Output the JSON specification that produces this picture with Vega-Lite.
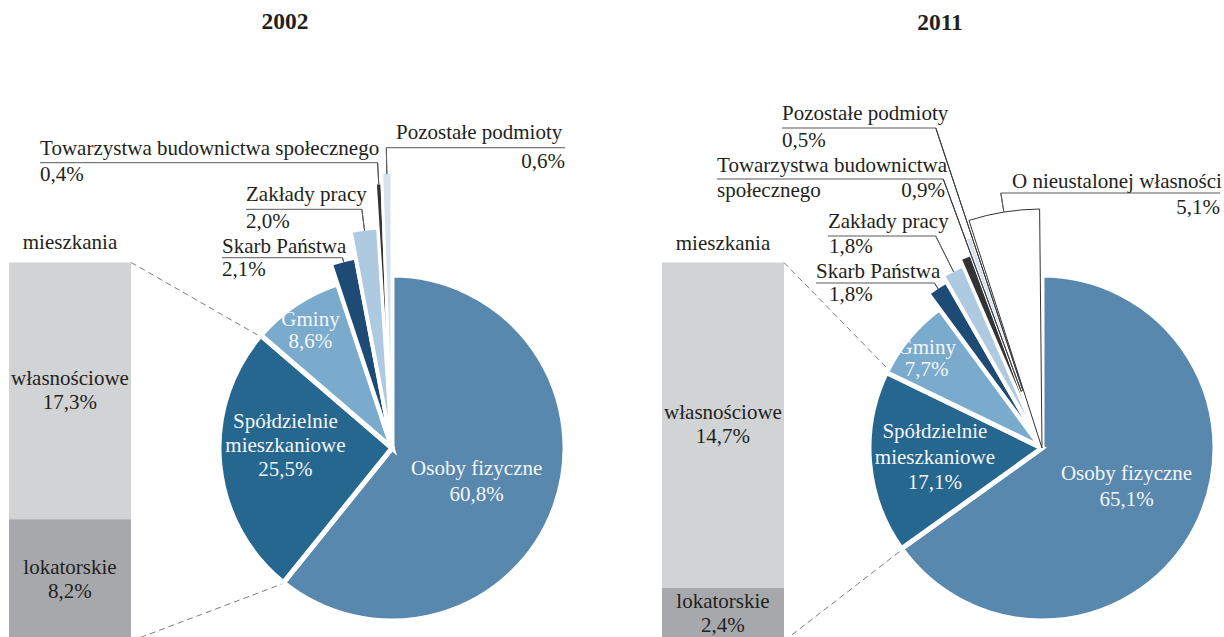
{
  "$schema": "https://vega.github.io/schema/vega-lite/v6.json",
  "padding": {"left": 9, "top": 10, "right": 0, "bottom": 0},
  "autosize": {"type": "pad"},
  "bounds": "flush",
  "spacing": 101,
  "config": {
    "font": "Liberation Serif",
    "view": {"stroke": null},
    "text": {"font": "Liberation Serif", "fontSize": 21, "color": "#231f20"},
    "title": {"font": "Liberation Serif", "fontSize": 23.5, "fontWeight": "bold", "color": "#231f20", "anchor": "middle", "frame": "group"}
  },
  "datasets": {
    "udzialy": [
      {"rok": "2002", "n": 1, "kat": "Osoby fizyczne", "v": 60.8},
      {"rok": "2002", "n": 2, "kat": "Spółdzielnie mieszkaniowe", "v": 25.5},
      {"rok": "2002", "n": 3, "kat": "Gminy", "v": 8.6},
      {"rok": "2002", "n": 4, "kat": "Skarb Państwa", "v": 2.1},
      {"rok": "2002", "n": 5, "kat": "Zakłady pracy", "v": 2.0},
      {"rok": "2002", "n": 6, "kat": "Towarzystwa budownictwa społecznego", "v": 0.4},
      {"rok": "2002", "n": 7, "kat": "Pozostałe podmioty", "v": 0.6},
      {"rok": "2011", "n": 1, "kat": "Osoby fizyczne", "v": 65.1},
      {"rok": "2011", "n": 2, "kat": "Spółdzielnie mieszkaniowe", "v": 17.1},
      {"rok": "2011", "n": 3, "kat": "Gminy", "v": 7.7},
      {"rok": "2011", "n": 4, "kat": "Skarb Państwa", "v": 1.8},
      {"rok": "2011", "n": 5, "kat": "Zakłady pracy", "v": 1.8},
      {"rok": "2011", "n": 6, "kat": "Towarzystwa budownictwa społecznego", "v": 0.9},
      {"rok": "2011", "n": 7, "kat": "Pozostałe podmioty", "v": 0.5},
      {"rok": "2011", "n": 8, "kat": "O nieustalonej własności", "v": 5.1}
    ],
    "mieszkania": [
      {"rok": "2002", "kat": "własnościowe", "v": 17.3},
      {"rok": "2002", "kat": "lokatorskie", "v": 8.2},
      {"rok": "2011", "kat": "własnościowe", "v": 14.7},
      {"rok": "2011", "kat": "lokatorskie", "v": 2.4}
    ]
  },
  "hconcat": [
    {
      "title": {"text": "2002", "offset": 88},
      "width": 552,
      "height": 386,
      "layer": [
        {
          "data": {"name": "mieszkania"},
          "transform": [
            {"filter": "datum.rok == '2002'"},
            {"window": [{"op": "sum", "field": "v", "as": "koniec"}], "sort": [{"field": "kat", "order": "ascending"}], "frame": [null, 0]},
            {"calculate": "datum.koniec - datum.v", "as": "poczatek"},
            {"calculate": "datum.koniec - datum.v / 2", "as": "srodek"},
            {"calculate": "datum.kat + '\\n' + replace(format(datum.v, '.1f'), '.', ',') + '%'", "as": "etykieta"}
          ],
          "layer": [
            {"mark": {"type": "bar"},
             "encoding": {
               "x": {"datum": "mieszkania", "type": "nominal", "axis": null, "scale": {"type": "band", "domain": ["mieszkania", "udzialy"], "paddingInner": 0.621118, "paddingOuter": 0.167702, "align": 0}},
               "y": {"field": "poczatek", "type": "quantitative", "axis": null, "scale": {"domain": [0, 26.0], "nice": false, "zero": true}},
               "y2": {"field": "koniec"},
               "color": {"field": "kat", "type": "nominal", "legend": null, "scale": {"domain": ["Osoby fizyczne", "Spółdzielnie mieszkaniowe", "Gminy", "Skarb Państwa", "Zakłady pracy", "Towarzystwa budownictwa społecznego", "Pozostałe podmioty", "O nieustalonej własności", "własnościowe", "lokatorskie"], "range": ["#5888ad", "#26678f", "#7aaacc", "#1d4b75", "#aecae1", "#333335", "#d6e3ed", "#ffffff", "#d2d3d5", "#a7a8ac"]}}}},
            {"mark": {"type": "text", "lineBreak": "\n", "lineHeight": 24, "baseline": "middle", "align": "center", "dy": -12},
             "encoding": {"x": {"datum": "mieszkania", "type": "nominal", "axis": null, "bandPosition": 0.5}, "y": {"field": "srodek", "type": "quantitative", "axis": null}, "text": {"field": "etykieta"}}},
            {"transform": [{"aggregate": [{"op": "sum", "field": "v", "as": "suma"}]}],
             "layer": [
               {"mark": {"type": "text", "text": "mieszkania", "baseline": "alphabetic", "align": "center", "dy": -13},
                "encoding": {"x": {"datum": "mieszkania", "type": "nominal", "axis": null, "bandPosition": 0.5}, "y": {"field": "suma", "type": "quantitative", "axis": null}}},
               {"mark": {"type": "rule", "color": "#6d6e71", "strokeWidth": 0.9, "strokeDash": [6, 4]},
                "encoding": {"x": {"datum": "mieszkania", "type": "nominal", "axis": null, "bandPosition": 1}, "y": {"field": "suma", "type": "quantitative", "axis": null},
                  "x2": {"datum": "udzialy", "bandPosition": -0.5738}, "y2": {"datum": 20.477}}},
               {"mark": {"type": "rule", "color": "#6d6e71", "strokeWidth": 0.9, "strokeDash": [6, 4]},
                "encoding": {"x": {"datum": "mieszkania", "type": "nominal", "axis": null, "bandPosition": 1}, "y": {"datum": 0, "type": "quantitative", "axis": null},
                  "x2": {"datum": "udzialy", "bandPosition": -0.4016}, "y2": {"datum": 3.839}}}
             ]}
          ]
        },
        {
          "data": {"name": "udzialy"},
          "transform": [
            {"filter": "datum.rok == '2002'"},
            {"window": [{"op": "sum", "field": "v", "as": "koniec"}], "sort": [{"field": "n", "order": "ascending"}], "frame": [null, 0]},
            {"calculate": "datum.koniec - datum.v", "as": "poczatek"},
            {"calculate": "datum.koniec - datum.v / 2", "as": "srodek"},
            {"calculate": "replace(format(datum.v, '.1f'), '.', ',') + '%'", "as": "pct"},
            {"calculate": "replace(datum.kat, 'Spółdzielnie ', 'Spółdzielnie\\n') + '\\n' + datum.pct", "as": "etykieta"}
          ],
          "encoding": {"x": {"datum": "udzialy", "type": "nominal", "axis": null, "bandPosition": 0.5}},
          "layer": [
            {"transform": [{"filter": {"field": "kat", "oneOf": ["Osoby fizyczne", "Spółdzielnie mieszkaniowe", "Gminy"]}}],
             "mark": {"type": "arc", "radius": 173, "stroke": "#ffffff", "strokeWidth": 5},
             "encoding": {"theta": {"field": "poczatek", "type": "quantitative", "stack": null, "scale": {"domain": [0, 100]}}, "theta2": {"field": "koniec"}, "color": {"field": "kat", "type": "nominal", "legend": null}}},
            {"transform": [{"filter": "datum.kat == 'Skarb Państwa'"}],
             "mark": {"type": "arc", "radius": 194, "stroke": "#ffffff", "strokeWidth": 4},
             "encoding": {"theta": {"field": "poczatek", "type": "quantitative", "stack": null}, "theta2": {"field": "koniec"}, "color": {"field": "kat", "type": "nominal", "legend": null}}},
            {"transform": [{"filter": "datum.kat == 'Zakłady pracy'"}],
             "mark": {"type": "arc", "radius": 221, "stroke": "#ffffff", "strokeWidth": 4},
             "encoding": {"theta": {"field": "poczatek", "type": "quantitative", "stack": null}, "theta2": {"field": "koniec"}, "color": {"field": "kat", "type": "nominal", "legend": null}}},
            {"transform": [{"filter": "datum.kat == 'Towarzystwa budownictwa społecznego'"}],
             "mark": {"type": "arc", "radius": 265.5, "stroke": "#ffffff", "strokeWidth": 3},
             "encoding": {"theta": {"field": "poczatek", "type": "quantitative", "stack": null}, "theta2": {"field": "koniec"}, "color": {"field": "kat", "type": "nominal", "legend": null}}},
            {"transform": [{"filter": "datum.kat == 'Pozostałe podmioty'"}],
             "mark": {"type": "arc", "radius": 276, "stroke": "#ffffff", "strokeWidth": 3},
             "encoding": {"theta": {"field": "poczatek", "type": "quantitative", "stack": null}, "theta2": {"field": "koniec"}, "color": {"field": "kat", "type": "nominal", "legend": null}}},

            {"transform": [{"filter": "datum.kat == 'Skarb Państwa'"}],
             "mark": {"type": "arc", "radius": 192, "radius2": 196.6, "filled": false, "stroke": "#58595b", "strokeWidth": 1},
             "encoding": {"theta": {"field": "srodek", "type": "quantitative", "stack": null}, "theta2": {"field": "srodek"}}},
            {"transform": [{"filter": "datum.kat == 'Zakłady pracy'"}],
             "mark": {"type": "arc", "radius": 219, "radius2": 240.6, "filled": false, "stroke": "#58595b", "strokeWidth": 1},
             "encoding": {"theta": {"field": "srodek", "type": "quantitative", "stack": null}, "theta2": {"field": "srodek"}}},
            {"transform": [{"filter": "datum.kat == 'Towarzystwa budownictwa społecznego'"}],
             "mark": {"type": "arc", "radius": 264, "radius2": 285.7, "filled": false, "stroke": "#58595b", "strokeWidth": 1},
             "encoding": {"theta": {"field": "srodek", "type": "quantitative", "stack": null}, "theta2": {"field": "srodek"}}},
            {"transform": [{"filter": "datum.kat == 'Pozostałe podmioty'"}],
             "mark": {"type": "arc", "radius": 274, "radius2": 300.3, "filled": false, "stroke": "#58595b", "strokeWidth": 1},
             "encoding": {"theta": {"field": "srodek", "type": "quantitative", "stack": null}, "theta2": {"field": "srodek"}}},

            {"transform": [{"filter": "datum.kat == 'Pozostałe podmioty'"}],
             "mark": {"type": "rule", "color": "#58595b", "strokeWidth": 1},
             "encoding": {"x": {"datum": "udzialy", "type": "nominal", "axis": null, "bandPosition": 0.4533}, "x2": {"datum": "udzialy", "bandPosition": 1.918}, "y": {"datum": 33.227, "type": "quantitative", "axis": null}}},
            {"transform": [{"filter": "datum.kat == 'Towarzystwa budownictwa społecznego'"}],
             "mark": {"type": "rule", "color": "#58595b", "strokeWidth": 1},
             "encoding": {"x": {"datum": "udzialy", "type": "nominal", "axis": null, "bandPosition": -2.3852}, "x2": {"datum": "udzialy", "bandPosition": 0.382}, "y": {"datum": 32.217, "type": "quantitative", "axis": null}}},
            {"transform": [{"filter": "datum.kat == 'Zakłady pracy'"}],
             "mark": {"type": "rule", "color": "#58595b", "strokeWidth": 1},
             "encoding": {"x": {"datum": "udzialy", "type": "nominal", "axis": null, "bandPosition": -0.6967}, "x2": {"datum": "udzialy", "bandPosition": 0.2525}, "y": {"datum": 29.078, "type": "quantitative", "axis": null}}},
            {"transform": [{"filter": "datum.kat == 'Skarb Państwa'"}],
             "mark": {"type": "rule", "color": "#58595b", "strokeWidth": 1},
             "encoding": {"x": {"datum": "udzialy", "type": "nominal", "axis": null, "bandPosition": -0.8934}, "x2": {"datum": "udzialy", "bandPosition": 0.0943}, "y": {"datum": 25.818, "type": "quantitative", "axis": null}}},

            {"transform": [{"filter": "datum.kat == 'Osoby fizyczne'"}],
             "mark": {"type": "text", "radius": 93, "lineBreak": "\n", "lineHeight": 26, "baseline": "middle", "align": "center", "color": "#f4f6f9", "dx": -3, "dy": -10},
             "encoding": {"theta": {"field": "srodek", "type": "quantitative", "stack": null}, "text": {"field": "etykieta"}}},
            {"transform": [{"filter": "datum.kat == 'Spółdzielnie mieszkaniowe'"}],
             "mark": {"type": "text", "radius": 104, "lineBreak": "\n", "lineHeight": 24, "baseline": "middle", "align": "center", "color": "#f4f6f9", "dx": -3, "dy": -35},
             "encoding": {"theta": {"field": "srodek", "type": "quantitative", "stack": null}, "text": {"field": "etykieta"}}},
            {"transform": [{"filter": "datum.kat == 'Gminy'"}],
             "mark": {"type": "text", "radius": 141, "lineBreak": "\n", "lineHeight": 22, "baseline": "middle", "align": "center", "color": "#f4f6f9", "dx": -3, "dy": -11},
             "encoding": {"theta": {"field": "srodek", "type": "quantitative", "stack": null}, "text": {"field": "etykieta"}}},

            {"transform": [{"filter": "datum.kat == 'Pozostałe podmioty'"}],
             "mark": {"type": "text", "radius": 300.3, "align": "left", "baseline": "alphabetic", "dx": 9.7, "dy": -9},
             "encoding": {"theta": {"field": "srodek", "type": "quantitative", "stack": null}, "text": {"field": "kat"}}},
            {"transform": [{"filter": "datum.kat == 'Pozostałe podmioty'"}],
             "mark": {"type": "text", "radius": 300.3, "align": "right", "baseline": "alphabetic", "dx": 178.7, "dy": 20},
             "encoding": {"theta": {"field": "srodek", "type": "quantitative", "stack": null}, "text": {"field": "pct"}}},
            {"transform": [{"filter": "datum.kat == 'Towarzystwa budownictwa społecznego'"}],
             "mark": {"type": "text", "radius": 285.7, "align": "left", "baseline": "alphabetic", "dx": -337.6, "dy": -8},
             "encoding": {"theta": {"field": "srodek", "type": "quantitative", "stack": null}, "text": {"field": "kat"}}},
            {"transform": [{"filter": "datum.kat == 'Towarzystwa budownictwa społecznego'"}],
             "mark": {"type": "text", "radius": 285.7, "align": "left", "baseline": "alphabetic", "dx": -337.6, "dy": 18.5},
             "encoding": {"theta": {"field": "srodek", "type": "quantitative", "stack": null}, "text": {"field": "pct"}}},
            {"transform": [{"filter": "datum.kat == 'Zakłady pracy'"}],
             "mark": {"type": "text", "radius": 240.6, "align": "left", "baseline": "alphabetic", "dx": -115.8, "dy": -8},
             "encoding": {"theta": {"field": "srodek", "type": "quantitative", "stack": null}, "text": {"field": "kat"}}},
            {"transform": [{"filter": "datum.kat == 'Zakłady pracy'"}],
             "mark": {"type": "text", "radius": 240.6, "align": "left", "baseline": "alphabetic", "dx": -115.8, "dy": 18.5},
             "encoding": {"theta": {"field": "srodek", "type": "quantitative", "stack": null}, "text": {"field": "pct"}}},
            {"transform": [{"filter": "datum.kat == 'Skarb Państwa'"}],
             "mark": {"type": "text", "radius": 196.6, "align": "left", "baseline": "alphabetic", "dx": -120.5, "dy": -5},
             "encoding": {"theta": {"field": "srodek", "type": "quantitative", "stack": null}, "text": {"field": "kat"}}},
            {"transform": [{"filter": "datum.kat == 'Skarb Państwa'"}],
             "mark": {"type": "text", "radius": 196.6, "align": "left", "baseline": "alphabetic", "dx": -120.5, "dy": 18},
             "encoding": {"theta": {"field": "srodek", "type": "quantitative", "stack": null}, "text": {"field": "pct"}}}
          ]
        }
      ]
    },
    {
      "title": {"text": "2011", "offset": 68},
      "width": 556,
      "height": 386,
      "layer": [
        {
          "data": {"name": "mieszkania"},
          "transform": [
            {"filter": "datum.rok == '2011'"},
            {"window": [{"op": "sum", "field": "v", "as": "koniec"}], "sort": [{"field": "kat", "order": "ascending"}], "frame": [null, 0]},
            {"calculate": "datum.koniec - datum.v", "as": "poczatek"},
            {"calculate": "datum.koniec - datum.v / 2", "as": "srodek"},
            {"calculate": "datum.kat + '\\n' + replace(format(datum.v, '.1f'), '.', ',') + '%'", "as": "etykieta"}
          ],
          "layer": [
            {"mark": {"type": "bar"},
             "encoding": {
               "x": {"datum": "mieszkania", "type": "nominal", "axis": null, "scale": {"type": "band", "domain": ["mieszkania", "udzialy"], "paddingInner": 0.617555, "paddingOuter": 0.180251, "align": 0}},
               "y": {"field": "poczatek", "type": "quantitative", "axis": null, "scale": {"domain": [0, 17.44], "nice": false, "zero": true}},
               "y2": {"field": "koniec"},
               "color": {"field": "kat", "type": "nominal", "legend": null, "scale": {"domain": ["Osoby fizyczne", "Spółdzielnie mieszkaniowe", "Gminy", "Skarb Państwa", "Zakłady pracy", "Towarzystwa budownictwa społecznego", "Pozostałe podmioty", "O nieustalonej własności", "własnościowe", "lokatorskie"], "range": ["#5888ad", "#26678f", "#7aaacc", "#1d4b75", "#aecae1", "#333335", "#d6e3ed", "#ffffff", "#d2d3d5", "#a7a8ac"]}}}},
            {"mark": {"type": "text", "lineBreak": "\n", "lineHeight": 24, "baseline": "middle", "align": "center", "dy": -12},
             "encoding": {"x": {"datum": "mieszkania", "type": "nominal", "axis": null, "bandPosition": 0.5}, "y": {"field": "srodek", "type": "quantitative", "axis": null}, "text": {"field": "etykieta"}}},
            {"transform": [{"aggregate": [{"op": "sum", "field": "v", "as": "suma"}]}],
             "layer": [
               {"mark": {"type": "text", "text": "mieszkania", "baseline": "alphabetic", "align": "center", "dy": -13},
                "encoding": {"x": {"datum": "mieszkania", "type": "nominal", "axis": null, "bandPosition": 0.5}, "y": {"field": "suma", "type": "quantitative", "axis": null}}},
               {"mark": {"type": "rule", "color": "#6d6e71", "strokeWidth": 0.9, "strokeDash": [6, 4]},
                "encoding": {"x": {"datum": "mieszkania", "type": "nominal", "axis": null, "bandPosition": 1}, "y": {"field": "suma", "type": "quantitative", "axis": null},
                  "x2": {"datum": "udzialy", "bandPosition": -0.7705}, "y2": {"datum": 12.334}}},
               {"mark": {"type": "rule", "color": "#6d6e71", "strokeWidth": 0.9, "strokeDash": [6, 4]},
                "encoding": {"x": {"datum": "mieszkania", "type": "nominal", "axis": null, "bandPosition": 1}, "y": {"datum": 0, "type": "quantitative", "axis": null},
                  "x2": {"datum": "udzialy", "bandPosition": -0.6393}, "y2": {"datum": 4.157}}}
             ]}
          ]
        },
        {
          "data": {"name": "udzialy"},
          "transform": [
            {"filter": "datum.rok == '2011'"},
            {"window": [{"op": "sum", "field": "v", "as": "koniec"}], "sort": [{"field": "n", "order": "ascending"}], "frame": [null, 0]},
            {"calculate": "datum.koniec - datum.v", "as": "poczatek"},
            {"calculate": "datum.koniec - datum.v / 2", "as": "srodek"},
            {"calculate": "replace(format(datum.v, '.1f'), '.', ',') + '%'", "as": "pct"},
            {"calculate": "replace(datum.kat, 'Spółdzielnie ', 'Spółdzielnie\\n') + '\\n' + datum.pct", "as": "etykieta"}
          ],
          "encoding": {"x": {"datum": "udzialy", "type": "nominal", "axis": null, "bandPosition": 0.5}},
          "layer": [
            {"transform": [{"filter": {"field": "kat", "oneOf": ["Osoby fizyczne", "Spółdzielnie mieszkaniowe", "Gminy"]}}],
             "mark": {"type": "arc", "radius": 173, "stroke": "#ffffff", "strokeWidth": 5},
             "encoding": {"theta": {"field": "poczatek", "type": "quantitative", "stack": null, "scale": {"domain": [0, 100]}}, "theta2": {"field": "koniec"}, "color": {"field": "kat", "type": "nominal", "legend": null}}},
            {"transform": [{"filter": "datum.kat == 'Skarb Państwa'"}],
             "mark": {"type": "arc", "radius": 192, "stroke": "#ffffff", "strokeWidth": 4},
             "encoding": {"theta": {"field": "poczatek", "type": "quantitative", "stack": null}, "theta2": {"field": "koniec"}, "color": {"field": "kat", "type": "nominal", "legend": null}}},
            {"transform": [{"filter": "datum.kat == 'Zakłady pracy'"}],
             "mark": {"type": "arc", "radius": 199, "stroke": "#ffffff", "strokeWidth": 4},
             "encoding": {"theta": {"field": "poczatek", "type": "quantitative", "stack": null}, "theta2": {"field": "koniec"}, "color": {"field": "kat", "type": "nominal", "legend": null}}},
            {"transform": [{"filter": "datum.kat == 'Towarzystwa budownictwa społecznego'"}],
             "mark": {"type": "arc", "radius": 206, "stroke": "#ffffff", "strokeWidth": 3},
             "encoding": {"theta": {"field": "poczatek", "type": "quantitative", "stack": null}, "theta2": {"field": "koniec"}, "color": {"field": "kat", "type": "nominal", "legend": null}}},
            {"transform": [{"filter": "datum.kat == 'Pozostałe podmioty'"}],
             "mark": {"type": "arc", "radius": 223, "stroke": "#ffffff", "strokeWidth": 3},
             "encoding": {"theta": {"field": "poczatek", "type": "quantitative", "stack": null}, "theta2": {"field": "koniec"}, "color": {"field": "kat", "type": "nominal", "legend": null}}},
            {"transform": [{"filter": "datum.kat == 'O nieustalonej własności'"}],
             "mark": {"type": "arc", "radius": 239, "stroke": "#333333", "strokeWidth": 1, "padAngle": 0.02},
             "encoding": {"theta": {"field": "poczatek", "type": "quantitative", "stack": null}, "theta2": {"field": "koniec"}, "color": {"field": "kat", "type": "nominal", "legend": null}}},

            {"transform": [{"filter": "datum.kat == 'Skarb Państwa'"}],
             "mark": {"type": "arc", "radius": 190, "radius2": 197, "filled": false, "stroke": "#58595b", "strokeWidth": 1},
             "encoding": {"theta": {"field": "srodek", "type": "quantitative", "stack": null}, "theta2": {"field": "srodek"}}},
            {"transform": [{"filter": "datum.kat == 'Zakłady pracy'"}],
             "mark": {"type": "arc", "radius": 197, "radius2": 237.2, "filled": false, "stroke": "#58595b", "strokeWidth": 1},
             "encoding": {"theta": {"field": "srodek", "type": "quantitative", "stack": null}, "theta2": {"field": "srodek"}}},
            {"transform": [{"filter": "datum.kat == 'Towarzystwa budownictwa społecznego'"}],
             "mark": {"type": "arc", "radius": 60, "radius2": 286.6, "filled": false, "stroke": "#3a3a3c", "strokeWidth": 1},
             "encoding": {"theta": {"field": "koniec", "type": "quantitative", "stack": null}, "theta2": {"field": "koniec"}}},
            {"transform": [{"filter": "datum.kat == 'Pozostałe podmioty'"}],
             "mark": {"type": "arc", "radius": 60, "radius2": 337.2, "filled": false, "stroke": "#3a3a3c", "strokeWidth": 1},
             "encoding": {"theta": {"field": "koniec", "type": "quantitative", "stack": null}, "theta2": {"field": "koniec"}}},
            {"transform": [{"filter": "datum.kat == 'O nieustalonej własności'"}],
             "mark": {"type": "arc", "radius": 239, "radius2": 258.3, "filled": false, "stroke": "#58595b", "strokeWidth": 1},
             "encoding": {"theta": {"field": "srodek", "type": "quantitative", "stack": null}, "theta2": {"field": "srodek"}}},

            {"transform": [{"filter": "datum.kat == 'Pozostałe podmioty'"}],
             "mark": {"type": "rule", "color": "#58595b", "strokeWidth": 1},
             "encoding": {"x": {"datum": "udzialy", "type": "nominal", "axis": null, "bandPosition": -1.6311}, "x2": {"datum": "udzialy", "bandPosition": -0.3705}, "y": {"datum": 23.178, "type": "quantitative", "axis": null}}},
            {"transform": [{"filter": "datum.kat == 'Towarzystwa budownictwa społecznego'"}],
             "mark": {"type": "rule", "color": "#58595b", "strokeWidth": 1},
             "encoding": {"x": {"datum": "udzialy", "type": "nominal", "axis": null, "bandPosition": -2.1639}, "x2": {"datum": "udzialy", "bandPosition": -0.3098}, "y": {"datum": 20.874, "type": "quantitative", "axis": null}}},
            {"transform": [{"filter": "datum.kat == 'Zakłady pracy'"}],
             "mark": {"type": "rule", "color": "#58595b", "strokeWidth": 1},
             "encoding": {"x": {"datum": "udzialy", "type": "nominal", "axis": null, "bandPosition": -1.2541}, "x2": {"datum": "udzialy", "bandPosition": -0.3713}, "y": {"datum": 18.298, "type": "quantitative", "axis": null}}},
            {"transform": [{"filter": "datum.kat == 'Skarb Państwa'"}],
             "mark": {"type": "rule", "color": "#58595b", "strokeWidth": 1},
             "encoding": {"x": {"datum": "udzialy", "type": "nominal", "axis": null, "bandPosition": -1.3525}, "x2": {"datum": "udzialy", "bandPosition": -0.382}, "y": {"datum": 16.175, "type": "quantitative", "axis": null}}},
            {"transform": [{"filter": "datum.kat == 'O nieustalonej własności'"}],
             "mark": {"type": "rule", "color": "#58595b", "strokeWidth": 1},
             "encoding": {"x": {"datum": "udzialy", "type": "nominal", "axis": null, "bandPosition": 0.1623}, "x2": {"datum": "udzialy", "bandPosition": 1.959}, "y": {"datum": 20.241, "type": "quantitative", "axis": null}}},

            {"transform": [{"filter": "datum.kat == 'Osoby fizyczne'"}],
             "mark": {"type": "text", "radius": 95, "lineBreak": "\n", "lineHeight": 26, "baseline": "middle", "align": "center", "color": "#f4f6f9", "dy": -17},
             "encoding": {"theta": {"field": "srodek", "type": "quantitative", "stack": null}, "text": {"field": "etykieta"}}},
            {"transform": [{"filter": "datum.kat == 'Spółdzielnie mieszkaniowe'"}],
             "mark": {"type": "text", "radius": 107.5, "lineBreak": "\n", "lineHeight": 25.5, "baseline": "middle", "align": "center", "color": "#f4f6f9", "dy": -25},
             "encoding": {"theta": {"field": "srodek", "type": "quantitative", "stack": null}, "text": {"field": "etykieta"}}},
            {"transform": [{"filter": "datum.kat == 'Gminy'"}],
             "mark": {"type": "text", "radius": 150, "lineBreak": "\n", "lineHeight": 22, "baseline": "middle", "align": "center", "color": "#f4f6f9", "dx": 0, "dy": -4},
             "encoding": {"theta": {"field": "srodek", "type": "quantitative", "stack": null}, "text": {"field": "etykieta"}}},

            {"transform": [{"filter": "datum.kat == 'Pozostałe podmioty'"}],
             "mark": {"type": "text", "radius": 337.2, "align": "left", "baseline": "alphabetic", "dx": -153.8, "dy": -8},
             "encoding": {"theta": {"field": "koniec", "type": "quantitative", "stack": null}, "text": {"field": "kat"}}},
            {"transform": [{"filter": "datum.kat == 'Pozostałe podmioty'"}],
             "mark": {"type": "text", "radius": 337.2, "align": "left", "baseline": "alphabetic", "dx": -153.8, "dy": 19.5},
             "encoding": {"theta": {"field": "koniec", "type": "quantitative", "stack": null}, "text": {"field": "pct"}}},
            {"transform": [{"filter": "datum.kat == 'Towarzystwa budownictwa społecznego'"}, {"calculate": "replace(datum.kat, 'budownictwa ', 'budownictwa\\n')", "as": "nazwa"}],
             "mark": {"type": "text", "radius": 286.6, "align": "left", "baseline": "alphabetic", "lineBreak": "\n", "lineHeight": 25, "dx": -226.2, "dy": -6.5},
             "encoding": {"theta": {"field": "koniec", "type": "quantitative", "stack": null}, "text": {"field": "nazwa"}}},
            {"transform": [{"filter": "datum.kat == 'Towarzystwa budownictwa społecznego'"}],
             "mark": {"type": "text", "radius": 286.6, "align": "right", "baseline": "alphabetic", "dx": 1.8, "dy": 18.5},
             "encoding": {"theta": {"field": "koniec", "type": "quantitative", "stack": null}, "text": {"field": "pct"}}},
            {"transform": [{"filter": "datum.kat == 'Zakłady pracy'"}],
             "mark": {"type": "text", "radius": 237.2, "align": "left", "baseline": "alphabetic", "dx": -107.7, "dy": -7.5},
             "encoding": {"theta": {"field": "srodek", "type": "quantitative", "stack": null}, "text": {"field": "kat"}}},
            {"transform": [{"filter": "datum.kat == 'Zakłady pracy'"}],
             "mark": {"type": "text", "radius": 237.2, "align": "left", "baseline": "alphabetic", "dx": -106.7, "dy": 17.5},
             "encoding": {"theta": {"field": "srodek", "type": "quantitative", "stack": null}, "text": {"field": "pct"}}},
            {"transform": [{"filter": "datum.kat == 'Skarb Państwa'"}],
             "mark": {"type": "text", "radius": 197, "align": "left", "baseline": "alphabetic", "dx": -118.4, "dy": -5},
             "encoding": {"theta": {"field": "srodek", "type": "quantitative", "stack": null}, "text": {"field": "kat"}}},
            {"transform": [{"filter": "datum.kat == 'Skarb Państwa'"}],
             "mark": {"type": "text", "radius": 197, "align": "left", "baseline": "alphabetic", "dx": -105.4, "dy": 18},
             "encoding": {"theta": {"field": "srodek", "type": "quantitative", "stack": null}, "text": {"field": "pct"}}},
            {"transform": [{"filter": "datum.kat == 'O nieustalonej własności'"}],
             "mark": {"type": "text", "radius": 258.3, "align": "left", "baseline": "alphabetic", "dx": 11.2, "dy": -5.5},
             "encoding": {"theta": {"field": "srodek", "type": "quantitative", "stack": null}, "text": {"field": "kat"}}},
            {"transform": [{"filter": "datum.kat == 'O nieustalonej własności'"}],
             "mark": {"type": "text", "radius": 258.3, "align": "right", "baseline": "alphabetic", "dx": 219.2, "dy": 21},
             "encoding": {"theta": {"field": "srodek", "type": "quantitative", "stack": null}, "text": {"field": "pct"}}}
          ]
        }
      ]
    }
  ]
}
